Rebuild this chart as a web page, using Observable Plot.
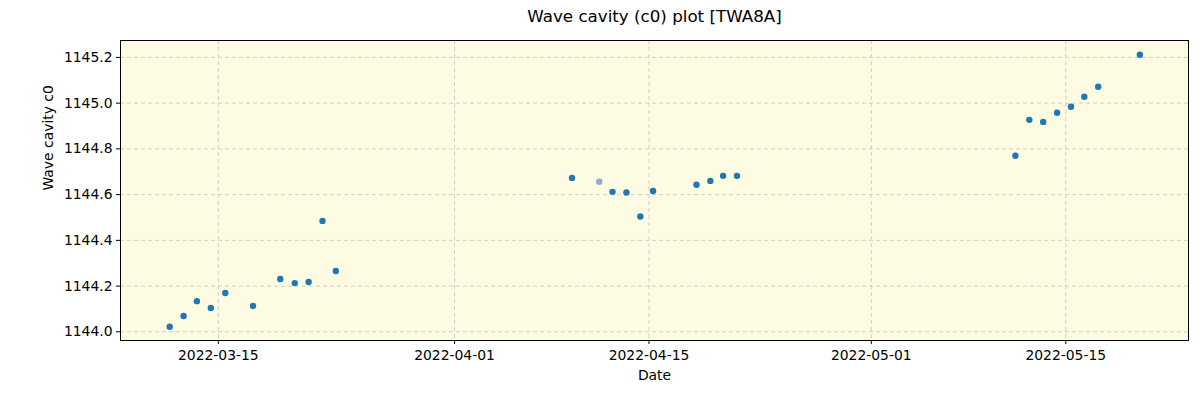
<!DOCTYPE html>
<html>
<head>
<meta charset="utf-8">
<script src="https://cdn.jsdelivr.net/npm/d3@7"></script>
<script src="https://cdn.jsdelivr.net/npm/@observablehq/plot@0.6"></script>
<style>
  html, body { margin: 0; padding: 0; background: #ffffff; }
  #chart svg { display: block; }
</style>
</head>
<body>
<div id="chart"></div>
<script>
const title = "Wave cavity (c0) plot [TWA8A]";
const xLabel = "Date";
const yLabel = "Wave cavity c0";

const dates = [
  "2022-03-11T12:00", "2022-03-12T12:00", "2022-03-13T11:00", "2022-03-14T11:00",
  "2022-03-15T12:00", "2022-03-17T12:00", "2022-03-19T11:00", "2022-03-20T12:00",
  "2022-03-21T12:00", "2022-03-22T12:00", "2022-03-23T11:00",
  "2022-04-09T11:00", "2022-04-11T10:00", "2022-04-12T09:00", "2022-04-13T09:00",
  "2022-04-14T09:00", "2022-04-15T07:00", "2022-04-18T10:00", "2022-04-19T10:00",
  "2022-04-20T08:00", "2022-04-21T08:00",
  "2022-05-11T09:00", "2022-05-12T09:00", "2022-05-13T09:00", "2022-05-14T09:00",
  "2022-05-15T09:00", "2022-05-16T08:00", "2022-05-17T08:00", "2022-05-20T08:00"
];
const values = [
  1144.022, 1144.069, 1144.134, 1144.104,
  1144.170, 1144.113, 1144.231, 1144.213,
  1144.218, 1144.485, 1144.266,
  1144.673, 1144.656, 1144.612, 1144.609,
  1144.504, 1144.616, 1144.643, 1144.660,
  1144.682, 1144.682,
  1144.770, 1144.927, 1144.918, 1144.958,
  1144.984, 1145.028, 1145.072, 1145.212
];
const pointAlpha = [
  1, 1, 1, 1, 1, 1, 1, 1, 1, 1, 1,
  1, 0.55, 1, 1, 1, 1, 1, 1, 1, 1,
  1, 1, 1, 1, 1, 1, 1, 1
];
const xTicks = ["2022-03-15", "2022-04-01", "2022-04-15", "2022-05-01", "2022-05-15"];
const yTicks = [1144.0, 1144.2, 1144.4, 1144.6, 1144.8, 1145.0, 1145.2];

const data = dates.map((d, i) => ({date: new Date(d + "Z"), value: values[i], alpha: pointAlpha[i]}));
const xTickDates = xTicks.map(d => new Date(d + "T00:00Z"));

const fmt = d3.utcFormat("%Y-%m-%d");

const chart = Plot.plot({
  width: 1200,
  height: 400,
  marginLeft: 120,
  marginRight: 12,
  marginTop: 40,
  marginBottom: 60,
  style: {fontFamily: "DejaVu Sans", fontSize: "13.9px", background: "#ffffff", color: "#000"},
  x: {type: "utc", domain: [new Date("2022-03-07T23:00Z"), new Date("2022-05-23T20:00Z")], label: null},
  y: {domain: [1143.962, 1145.274], label: null},
  marks: [
    Plot.frame({fill: "#fdfce2", stroke: null}),
    Plot.gridX(xTickDates, {stroke: "#c8c8c8", strokeOpacity: 1, strokeDasharray: "4,3", strokeWidth: 0.9}),
    Plot.gridY(yTicks, {stroke: "#c8c8c8", strokeOpacity: 1, strokeDasharray: "4,3", strokeWidth: 0.9}),
    Plot.dot(data, {x: "date", y: "value", r: 3.2, fill: "#1f77b4", fillOpacity: d => d.alpha, stroke: null}),
    Plot.axisX({ticks: xTickDates, tickFormat: fmt, tickSize: 4, tickPadding: 6, label: null, fontSize: 13.9}),
    Plot.axisY({ticks: yTicks, tickFormat: d3.format(".1f"), tickSize: 4, tickPadding: 4, label: null, fontSize: 13.9}),
    Plot.frame({stroke: "#000", strokeWidth: 1}),
    Plot.text([title], {frameAnchor: "top", dy: -30, fontSize: 16.7, fill: "#000"}),
    Plot.text([xLabel], {frameAnchor: "bottom", dy: 39, fontSize: 13.9, fill: "#000"}),
    Plot.text([yLabel], {frameAnchor: "left", dx: -72, rotate: -90, fontSize: 13.9, fill: "#000"})
  ]
});
document.getElementById("chart").appendChild(chart);
</script>
</body>
</html>
